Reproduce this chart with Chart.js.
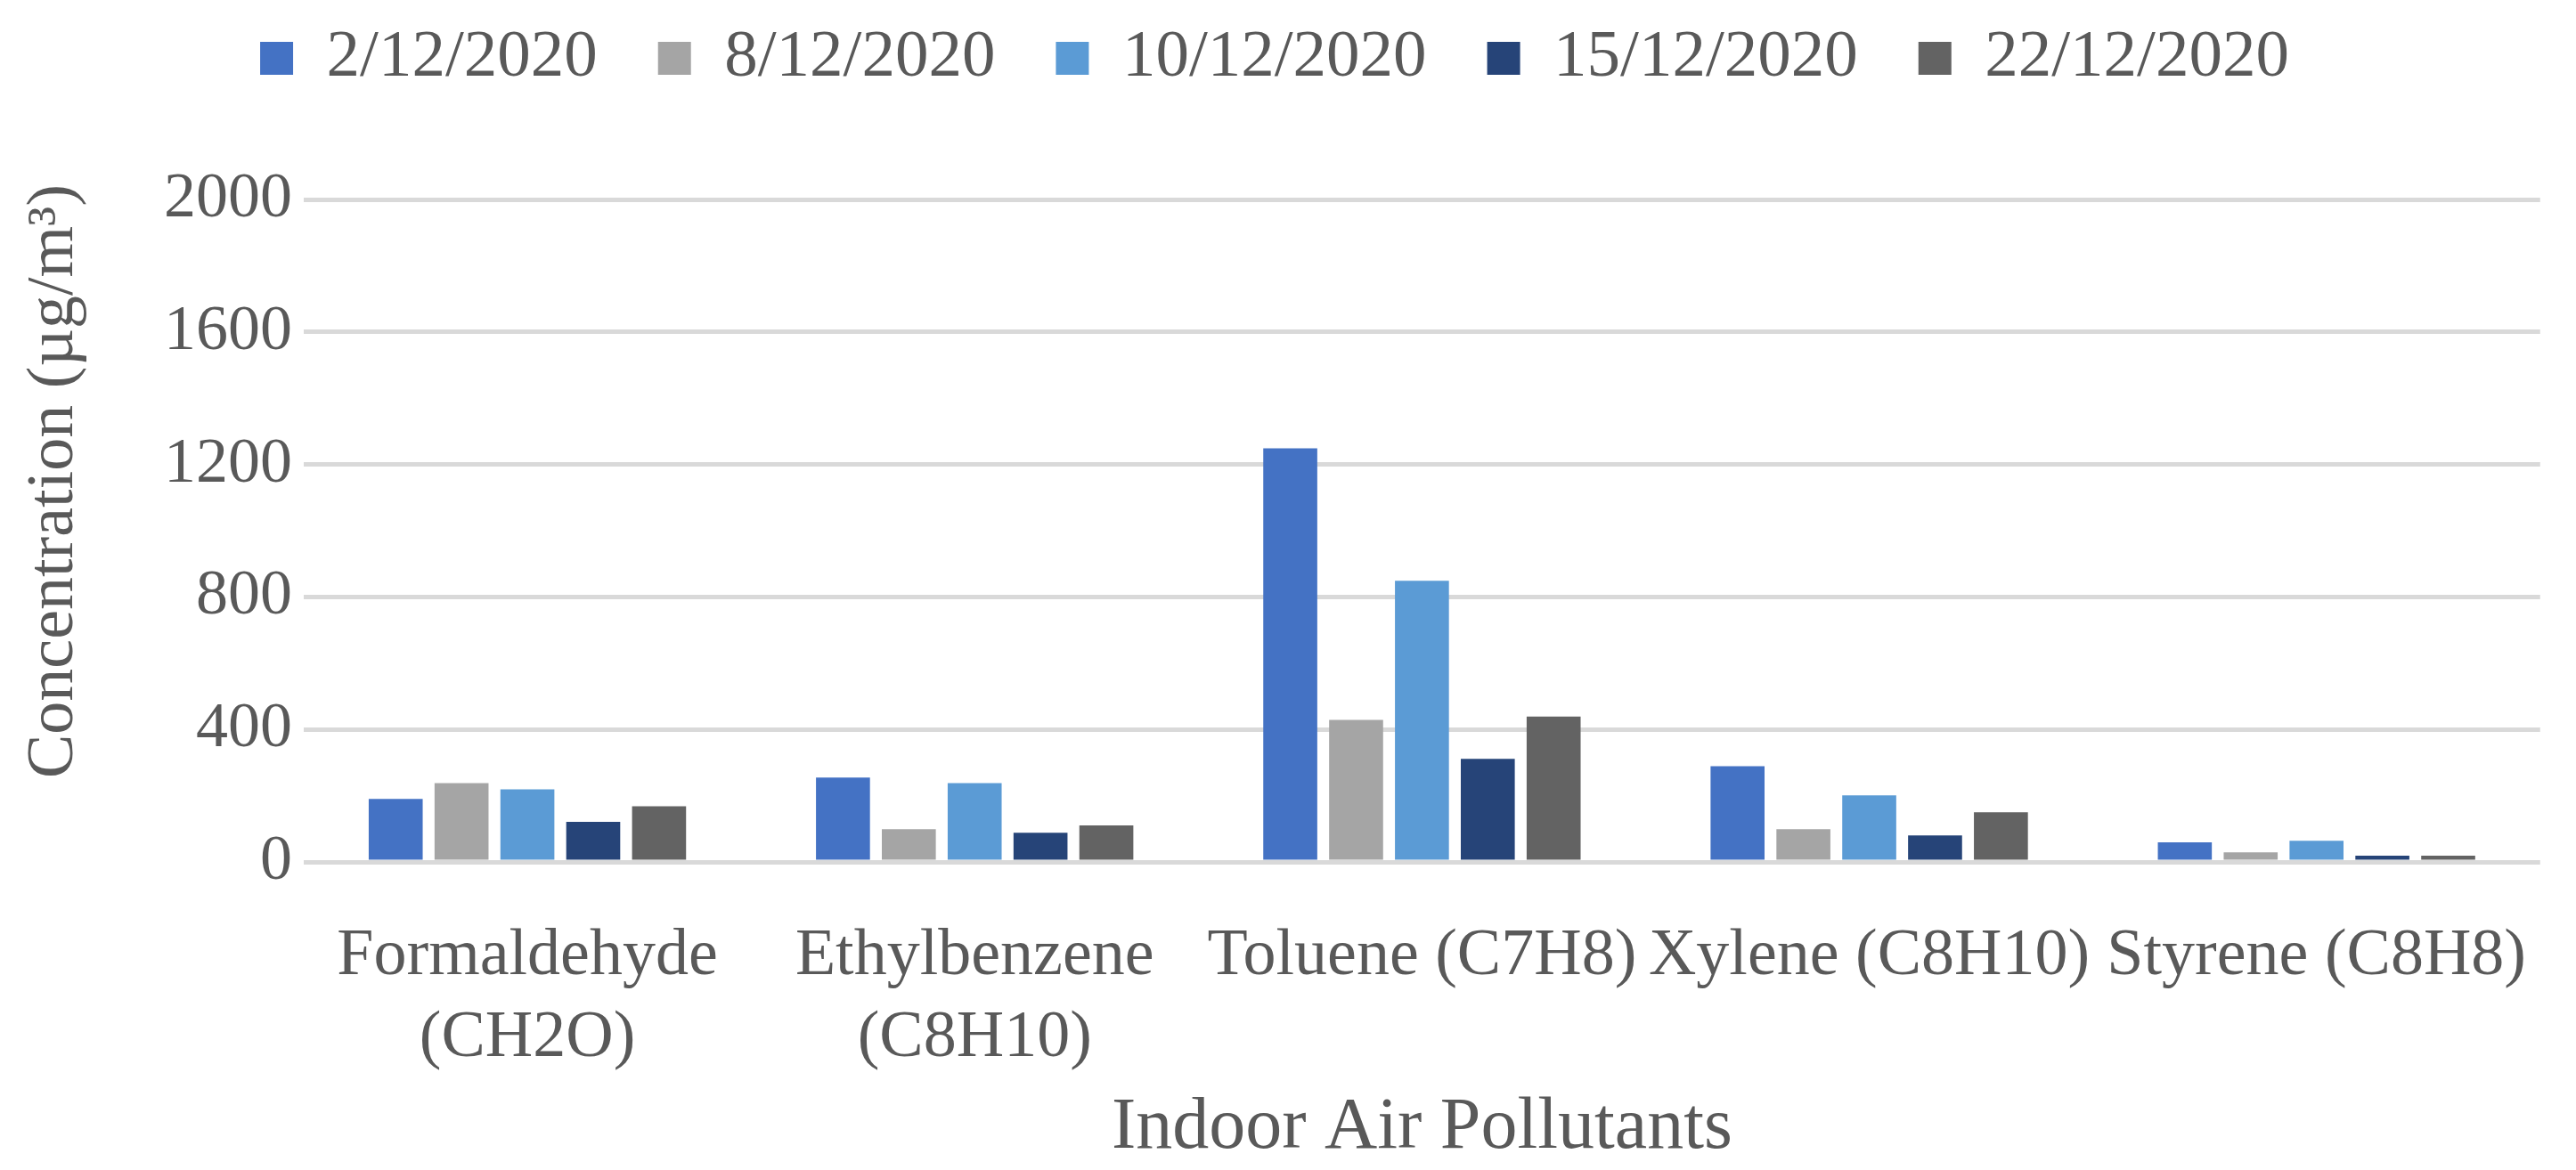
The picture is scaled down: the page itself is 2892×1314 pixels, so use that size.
<!DOCTYPE html>
<html>
<head>
<meta charset="utf-8">
<script src="https://cdn.jsdelivr.net/npm/chart.js@4"></script>
<style>
    html, body { margin: 0; padding: 0; background: #ffffff; }
    #chartBox { width: 2892px; height: 1314px; }
</style>
</head>
<body>
<div id="chartBox"><canvas id="airChart" width="2892" height="1314"></canvas></div>
<script>
// pollutants on the x axis
const categories = [
    ["Formaldehyde", "(CH2O)"],
    ["Ethylbenzene", "(C8H10)"],
    "Toluene (C7H8)",
    "Xylene (C8H10)",
    "Styrene (C8H8)"
];

// sampling dates (legend)
const dates = ["2/12/2020", "8/12/2020", "10/12/2020", "15/12/2020", "22/12/2020"];

// concentrations in µg/m3, one array per date
const values_02_12 = [190, 255, 1249, 289, 59];
const values_08_12 = [238, 99, 429, 99, 29];
const values_10_12 = [219, 238, 849, 201, 64];
const values_15_12 = [121, 88, 311, 80, 19];
const values_22_12 = [168, 110, 439, 150, 19];

const yTicks = [0, 400, 800, 1200, 1600, 2000];

const colours = ["#4472C4", "#A5A5A5", "#5B9BD5", "#264478", "#636363"];
const allValues = [values_02_12, values_08_12, values_10_12, values_15_12, values_22_12];

const textColour = "#595959";
const fontFamily = "'Liberation Serif', 'Times New Roman', serif";

Chart.defaults.color = textColour;
Chart.defaults.font.family = fontFamily;

let datasets = [];
for (let i = 0; i < dates.length; i++) {
    datasets.push({
        label: dates[i],
        data: allValues[i],
        backgroundColor: colours[i],
        borderWidth: 0,
        categoryPercentage: 0.736,
        barPercentage: 0.82
    });
}

// leading spaces push the rotated y title a bit upwards, like the original
const yTitle = "\u00A0".repeat(6) + "Concentration (µg/m³)";

const ctx = document.getElementById("airChart").getContext("2d");
const airChart = new Chart(ctx, {
    type: "bar",
    data: {
        labels: categories,
        datasets: datasets
    },
    options: {
        responsive: false,
        animation: false,
        devicePixelRatio: 1,
        layout: {
            padding: { top: -40, left: 0, right: 30, bottom: 0 }
        },
        plugins: {
            tooltip: { enabled: false },
            legend: {
                position: "top",
                weight: 3000,
                labels: {
                    color: textColour,
                    font: { family: fontFamily, size: 75 },
                    boxWidth: 37,
                    boxHeight: 37,
                    padding: 68
                }
            },
            // empty title used as a spacer between the legend and the plot
            title: {
                display: true,
                text: "",
                font: { family: fontFamily, size: 1 },
                padding: { top: 0, bottom: 110 }
            }
        },
        scales: {
            x: {
                grid: { display: false },
                border: { display: false },
                ticks: {
                    color: textColour,
                    font: { family: fontFamily, size: 74, lineHeight: 1.243 },
                    padding: 53,
                    maxRotation: 0,
                    minRotation: 0,
                    autoSkip: false
                },
                title: {
                    display: true,
                    text: "Indoor Air Pollutants",
                    color: textColour,
                    font: { family: fontFamily, size: 82 },
                    padding: { top: 0, bottom: -3 }
                },
                afterFit: function (scale) {
                    scale.height = 1314 - 968;
                }
            },
            y: {
                min: 0,
                max: 2000,
                afterBuildTicks: function (scale) {
                    scale.ticks = yTicks.map(v => ({ value: v }));
                },
                grid: {
                    color: "#D9D9D9",
                    lineWidth: 5,
                    drawTicks: false
                },
                border: { display: false },
                ticks: {
                    color: textColour,
                    font: { family: fontFamily, size: 72 },
                    padding: 13,
                    callback: function (value) {
                        return String(value);
                    }
                },
                title: {
                    display: true,
                    text: yTitle,
                    color: textColour,
                    font: { family: fontFamily, size: 74 },
                    padding: { top: 17, bottom: 0 }
                },
                afterFit: function (scale) {
                    scale.width = 341;
                }
            }
        }
    }
});
</script>
</body>
</html>
